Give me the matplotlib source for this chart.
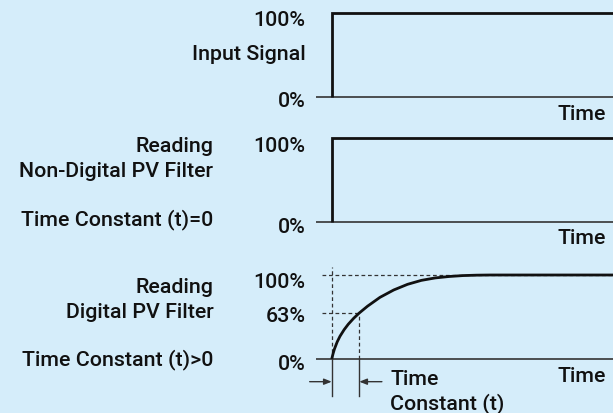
import matplotlib
matplotlib.use("Agg")
import matplotlib.pyplot as plt

# ---------------- data ----------------
# time in units of the time constant (t); level as fraction of 100%
step_t = [0.0, 0.0, 10.2]
step_y = [0.0, 1.0, 1.0]

curve_t = [0.0, 0.05, 0.1, 0.2, 0.3, 0.45, 0.6, 0.8, 1.0, 1.3, 1.75, 2.25,
           2.75, 3.25, 3.75, 4.25, 4.75, 5.25, 5.75, 10.2]
curve_y = [0.0, 0.065, 0.12, 0.205, 0.271, 0.349, 0.414, 0.486, 0.548,
           0.629, 0.734, 0.822, 0.889, 0.936, 0.965, 0.982, 0.993, 0.998,
           1.0, 1.0]

tau = 1.0
level_63 = 0.548      # drawn position of the 63% mark

panel_left_labels = [
    ["Input Signal"],
    ["Reading", "Non-Digital PV Filter", "Time Constant (t)=0"],
    ["Reading", "Digital PV Filter", "Time Constant (t)>0"],
]
x_label = "Time"
tc_label = ["Time", "Constant (t)"]

# ---------------- layout ----------------
W, H = 613, 414
BG = "#d5edfa"
FONT = "Roboto"
FS = 15.4

fig = plt.figure(figsize=(W / 100, H / 100), dpi=100, facecolor=BG)

XMIN, XMAX = -0.57, 10.2
ax_left_px = 316

# (y of 0% line, y of 100% line) in pixels from top
panels_px = [(98.3, 14.0), (222.7, 139.0), (360.0, 276.0)]


def make_ax(y0, y1):
    ax = fig.add_axes([ax_left_px / W, 1 - y0 / H, 1 - ax_left_px / W, (y0 - y1) / H])
    ax.set_xlim(XMIN, XMAX)
    ax.set_ylim(0, 1)
    ax.axis("off")
    ax.patch.set_alpha(0)
    return ax


def ftext(xpx, ybase_px, s, ha="right"):
    fig.text(xpx / W, 1 - ybase_px / H, s, ha=ha, va="baseline",
             fontsize=FS, family=FONT, fontweight="medium", color="#111111")


axes = [make_ax(*p) for p in panels_px]

LINE = "#111111"
BASE = "#333333"

for i, ax in enumerate(axes):
    ax.plot([XMIN, XMAX], [0, 0], color=BASE, lw=1.2, clip_on=False,
            solid_capstyle="butt")

# panel 1 & 2: step
for ax in axes[:2]:
    ax.plot(step_t, step_y, color=LINE, lw=2.0, clip_on=False,
            solid_joinstyle="miter", solid_capstyle="butt")

# panel 3: filtered response
ax3 = axes[2]
dash = (0, (3.0, 2.2))
ax3.plot([-0.35, XMAX], [1, 1], color=BASE, lw=0.9, ls=dash, clip_on=False)
ax3.plot([-0.35, tau], [level_63, level_63], color=BASE, lw=0.9, ls=dash, clip_on=False)
ax3.plot([0, 0], [0, 1.095], color=BASE, lw=0.9, ls=dash, clip_on=False)
ax3.plot([tau, tau], [0, level_63], color=BASE, lw=0.9, ls=dash, clip_on=False)
ax3.plot(curve_t, curve_y, color=LINE, lw=2.0, clip_on=False,
         solid_capstyle="butt", solid_joinstyle="round")

# dimension lines below
ax3.plot([0, 0], [0, -0.44], color=BASE, lw=1.0, clip_on=False)
ax3.plot([tau, tau], [0, -0.44], color=BASE, lw=1.0, clip_on=False)
arr_y = -0.27
ax3.annotate("", xy=(0, arr_y), xytext=(-0.8, arr_y), annotation_clip=False,
             arrowprops=dict(arrowstyle="-|>,head_length=0.45,head_width=0.18",
                             color=BASE, lw=1.0, shrinkA=0, shrinkB=0))
ax3.annotate("", xy=(tau, arr_y), xytext=(1.82, arr_y), annotation_clip=False,
             arrowprops=dict(arrowstyle="-|>,head_length=0.45,head_width=0.18",
                             color=BASE, lw=1.0, shrinkA=0, shrinkB=0))

# ---------------- texts ----------------
PCT_X = 305.7
LEFT_X = 213.3
TIME_X = 605.5

# panel 1
ftext(PCT_X, 26, "100%")
ftext(PCT_X, 60, panel_left_labels[0][0])
ftext(PCT_X, 107, "0%")
ftext(TIME_X, 120, x_label)

# panel 2
ftext(LEFT_X, 151.7, panel_left_labels[1][0])
ftext(LEFT_X, 176.7, panel_left_labels[1][1])
ftext(LEFT_X, 225, panel_left_labels[1][2])
ftext(PCT_X, 151.7, "100%")
ftext(PCT_X, 232.7, "0%")
ftext(TIME_X, 244, x_label)

# panel 3
ftext(LEFT_X, 293, panel_left_labels[2][0])
ftext(LEFT_X, 318.3, panel_left_labels[2][1])
ftext(LEFT_X, 365, panel_left_labels[2][2])
ftext(PCT_X, 287.7, "100%")
ftext(PCT_X, 322.3, "63%")
ftext(PCT_X, 370, "0%")
ftext(TIME_X, 381.7, x_label)
ftext(390, 385.5, tc_label[0], ha="left")
ftext(390, 409.5, tc_label[1], ha="left")

fig.savefig("out.png", dpi=100, facecolor=BG)
